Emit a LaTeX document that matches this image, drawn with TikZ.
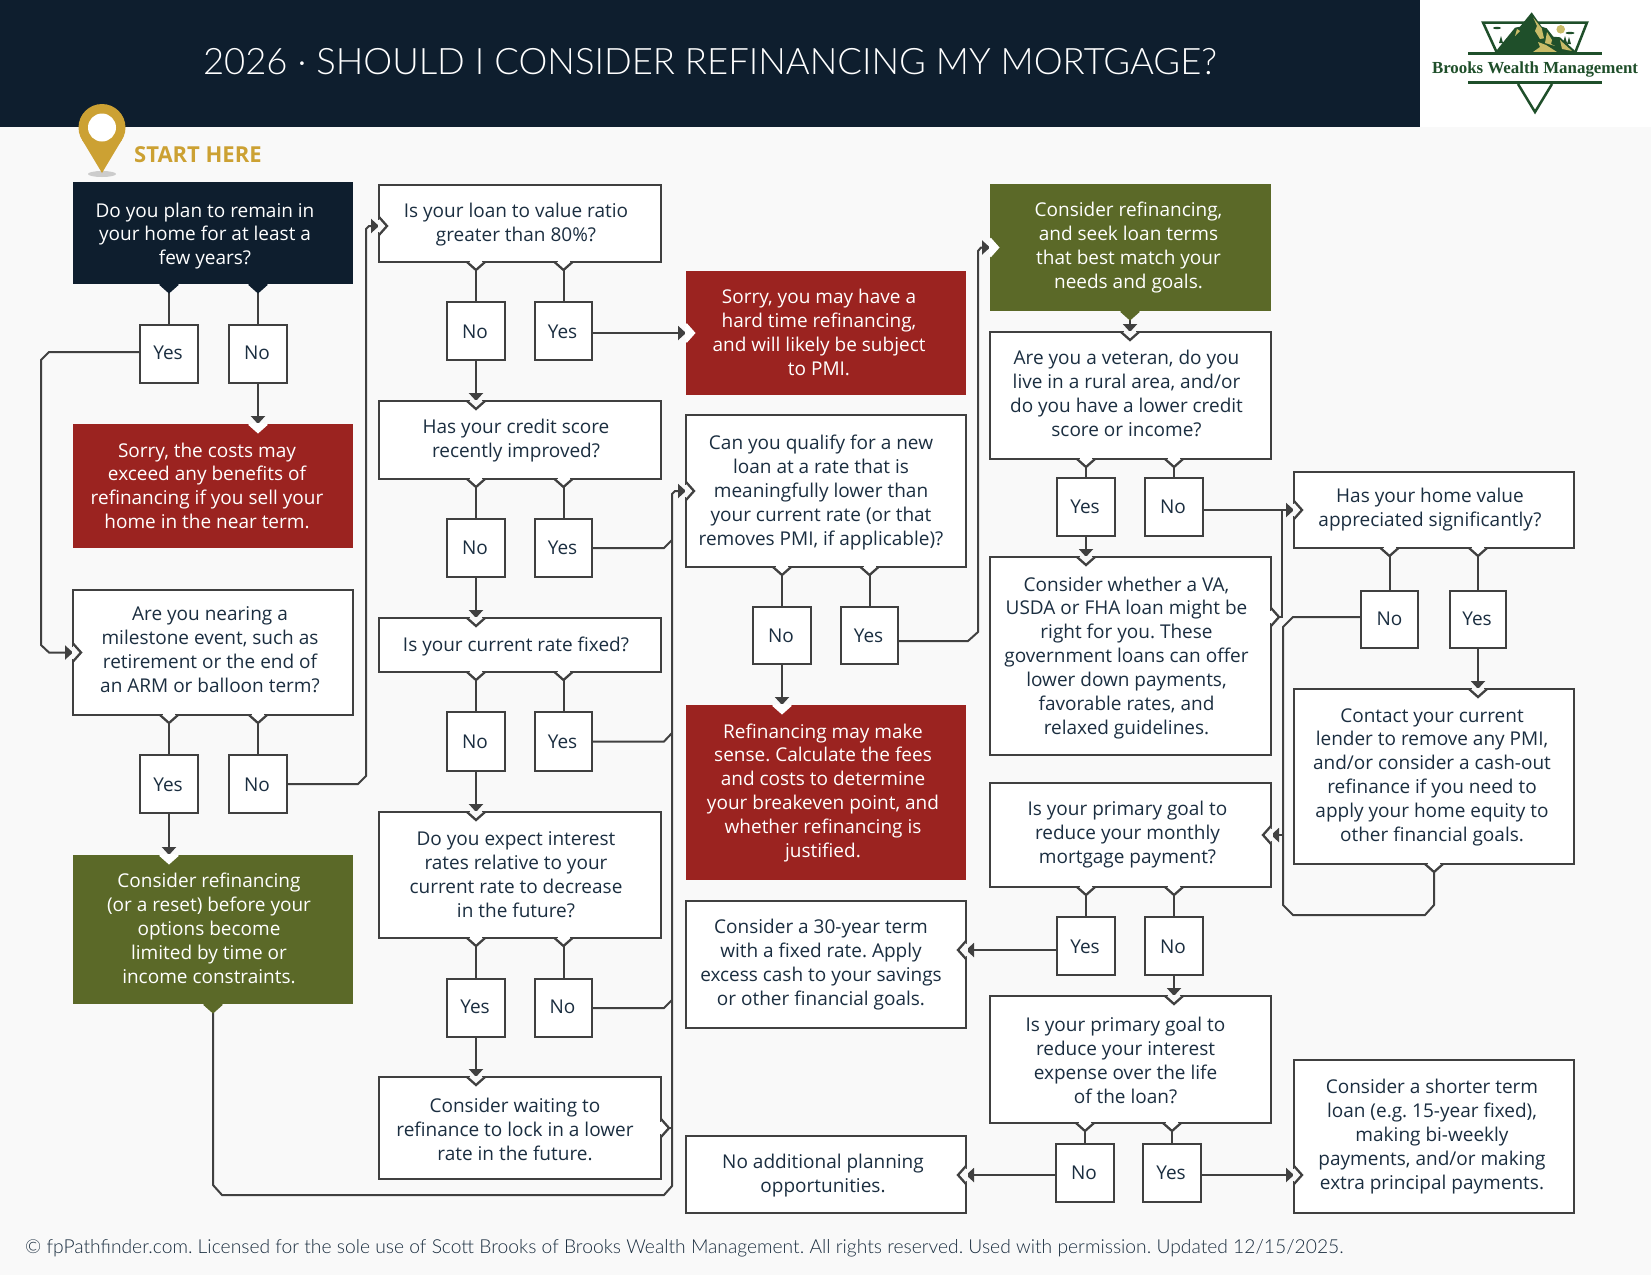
\documentclass[tikz,border=0pt]{standalone}
\usepackage{fontspec}
\usepackage{graphicx}
\usetikzlibrary{arrows.meta,backgrounds,calc}
\setmainfont{Open Sans}
\newfontfamily\lightf{Lato}[UprightFont=* Light]
\newfontfamily\logof{Liberation Serif}
\frenchspacing
\definecolor{pagebg}{HTML}{F9F9F9}
\definecolor{navy}{HTML}{0E1E2E}
\definecolor{inkc}{HTML}{1B2E40}
\definecolor{redc}{HTML}{9B2320}
\definecolor{greenc}{HTML}{5B6928}
\definecolor{goldc}{HTML}{CCA133}
\definecolor{linec}{HTML}{404040}
\definecolor{logog}{HTML}{1F4F2A}
\definecolor{logoy}{HTML}{C9BC68}
\newcommand\txt[3]{\frenchspacing\kern#1pt\raisebox{#2pt}[\height][\depth]{\begin{tabular}{@{}c@{}}#3\end{tabular}}\kern-#1pt}
% name x1 y1 x2 y2 style dx dy lines
\newcommand\bx[9]{\node[#6,minimum width={(#4)-(#2)},minimum height={(#5)-(#3)}] (#1) at ({((#2)+(#4))/2},{((#3)+(#5))/2}) {\txt{#7}{#8}{#9}};}
% coordinate, rotation (0 down, 90 right, 180 up, -90 left), fill, draw
\newcommand\nt[4]{\begin{scope}[shift={#1},rotate=#2]
\fill[#3] (-8,0) -- (0,8) -- (8,0) -- cycle;
\draw[#3,line width=3pt] (-6,0) -- (6,0);
\draw[#4,line width=2.3pt,line join=miter] (-9,0) -- (0,8) -- (9,0);
\end{scope}}
\tikzset{
 base/.style={inner sep=0pt,outer sep=0pt,font=\fontsize{19}{23.9}\selectfont},
 qbox/.style={base,rectangle,draw=linec,line width=2.3pt,fill=white,text=inkc},
 ansbox/.style={qbox},
 navybox/.style={base,rectangle,fill=navy,text=white},
 redbox/.style={base,rectangle,fill=redc,text=white},
 greenbox/.style={base,rectangle,fill=greenc,text=white},
 conn/.style={draw=linec,line width=2pt,line join=miter},
 arr/.style={conn,-{Triangle[width=14pt,length=8pt]}},
}
\begin{document}
\begin{tikzpicture}[x=1pt,y=-1pt]
\useasboundingbox (0,0) rectangle (1651,1275);

% column 1
\bx{a1}{73}{182}{353}{284}{navybox}{-8}{-3.2}{Do you plan to remain in\\your home for at least a\\few years?}
\bx{a1y}{140}{325}{198}{383}{ansbox}{-1}{-1}{Yes}
\bx{a1n}{229}{325}{287}{383}{ansbox}{-1}{-1}{No}
\bx{r1}{73}{424}{353}{548}{redbox}{-6}{-2.1}{Sorry, the costs may\\exceed any benefits of\\refinancing if you sell your\\home in the near term.}
\bx{a2}{73}{590}{353}{715}{qbox}{-3}{1}{Are you nearing a\\milestone event, such as\\retirement or the end of\\an ARM or balloon term?}
\bx{a2y}{140}{755}{198}{813}{ansbox}{-1}{-2.5}{Yes}
\bx{a2n}{229}{755}{287}{813}{ansbox}{-1}{-2.5}{No}
\bx{g1}{73}{855}{353}{1004}{greenbox}{-4}{-1}{Consider refinancing\\(or a reset) before your\\options become\\limited by time or\\income constraints.}

% column 2
\bx{b1}{379}{185}{661}{262}{qbox}{-4}{-1}{Is your loan to value ratio\\greater than 80\%?}
\bx{b1n}{447}{302}{505}{360}{ansbox}{-1}{-2.5}{No}
\bx{b1y}{535}{302}{592}{360}{ansbox}{-1}{-2.5}{Yes}
\bx{b2}{379}{401}{661}{479}{qbox}{-4}{-0.5}{Has your credit score\\recently improved?}
\bx{b2n}{447}{519}{505}{577}{ansbox}{-1}{-2}{No}
\bx{b2y}{535}{519}{592}{577}{ansbox}{-1}{-2}{Yes}
\bx{b3}{379}{618}{661}{672}{qbox}{-4}{-2}{Is your current rate fixed?}
\bx{b3n}{447}{712}{505}{771}{ansbox}{-1}{-2}{No}
\bx{b3y}{535}{712}{592}{771}{ansbox}{-1}{-2}{Yes}
\bx{b4}{379}{812}{661}{938}{qbox}{-4}{-2}{Do you expect interest\\rates relative to your\\current rate to decrease\\in the future?}
\bx{b4y}{447}{979}{505}{1037}{ansbox}{-1}{-0.5}{Yes}
\bx{b4n}{535}{979}{592}{1037}{ansbox}{-1}{-0.5}{No}
\bx{b5}{379}{1077}{661}{1179}{qbox}{-5}{-4}{Consider waiting to\\refinance to lock in a lower\\rate in the future.}

% column 3
\bx{r2}{686}{271}{966}{395}{redbox}{-7}{-2}{Sorry, you may have a\\hard time refinancing,\\and will likely be subject\\to PMI.}
\bx{c1}{686}{415}{966}{567}{qbox}{-5}{-1.5}{Can you qualify for a new\\loan at a rate that is\\meaningfully lower than\\your current rate (or that\\removes PMI, if applicable)?}
\bx{c1n}{753}{607}{811}{664}{ansbox}{-1}{-2}{No}
\bx{c1y}{841}{607}{898}{664}{ansbox}{-1}{-2}{Yes}
\bx{r3}{686}{705}{966}{880}{redbox}{-3}{-0.5}{Refinancing may make\\sense. Calculate the fees\\and costs to determine\\your breakeven point, and\\whether refinancing is\\justified.}
\bx{c2}{686}{901}{966}{1028}{qbox}{-5}{0}{Consider a 30-year term\\with a fixed rate. Apply\\excess cash to your savings\\or other financial goals.}
\bx{c3}{686}{1136}{966}{1213}{qbox}{-3}{-1}{No additional planning\\opportunities.}

% column 4
\bx{g2}{990}{184}{1271}{311}{greenbox}{-2}{0}{Consider refinancing,\\and seek loan terms\\that best match your\\needs and goals.}
\bx{d1}{990}{332}{1271}{459}{qbox}{-4}{-0.5}{Are you a veteran, do you\\live in a rural area, and/or\\do you have a lower credit\\score or income?}
\bx{d1y}{1057}{478}{1115}{536}{ansbox}{-1}{-2}{Yes}
\bx{d1n}{1145}{478}{1203}{536}{ansbox}{-1}{-2}{No}
\bx{d2}{990}{557}{1271}{755}{qbox}{-4}{-2}{Consider whether a VA,\\USDA or FHA loan might be\\right for you. These\\government loans can offer\\lower down payments,\\favorable rates, and\\relaxed guidelines.}
\bx{d3}{990}{783}{1271}{887}{qbox}{-3}{0}{Is your primary goal to\\reduce your monthly\\mortgage payment?}
\bx{d3y}{1057}{917}{1115}{975}{ansbox}{-1}{-2.5}{Yes}
\bx{d3n}{1145}{917}{1203}{975}{ansbox}{-1}{-2.5}{No}
\bx{d4}{990}{996}{1271}{1123}{qbox}{-5}{-3}{Is your primary goal to\\reduce your interest\\expense over the life\\of the loan?}
\bx{d4n}{1056}{1144}{1114}{1202}{ansbox}{-1}{-2}{No}
\bx{d4y}{1143}{1144}{1201}{1202}{ansbox}{-1}{-2}{Yes}

% column 5
\bx{e1}{1294}{472}{1574}{548}{qbox}{-4}{0}{Has your home value\\appreciated significantly?}
\bx{e1n}{1361}{591}{1418}{648}{ansbox}{0}{-1}{No}
\bx{e1y}{1450}{591}{1506}{648}{ansbox}{-1}{-1}{Yes}
\bx{e2}{1294}{689}{1574}{864}{qbox}{-2}{-0.5}{Contact your current\\lender to remove any PMI,\\and/or consider a cash-out\\refinance if you need to\\apply your home equity to\\other financial goals.}
\bx{e3}{1294}{1060}{1574}{1213}{qbox}{-2}{-0.5}{Consider a shorter term\\loan (e.g. 15-year fixed),\\making bi-weekly\\payments, and/or making\\extra principal payments.}

% named ports
\coordinate (d2out) at (1271,617);
\coordinate (c2in) at (966,950);
\coordinate (c3in) at (966,1175);
\coordinate (e3in) at (1294,1175);
\coordinate (b1in) at (379,226);

\begin{scope}[on background layer]
\fill[pagebg] (0,0) rectangle (1651,1275);
\fill[navy] (0,0) rectangle (1420,127);
\fill[white] (1420,0) rectangle (1651,127);

% column 1 connectors
\draw[conn] (a1.south -| a1y.north) -- (a1y.north);
\draw[conn] (a1.south -| a1n.north) -- (a1n.north);
\draw[arr] (a1n.south) -- (a1n.south |- r1.north);
\draw[arr] (a1y.west |- 49,352) -- (49,352) -- (41,360) -- (41,645) -- (49,652.5) -- (a2.west);
\draw[conn] (a2.south -| a2y.north) -- (a2y.north);
\draw[conn] (a2.south -| a2n.north) -- (a2n.north);
\draw[arr] (a2y.south) -- (a2y.south |- g1.north);
\draw[arr] (a2n.east) -- (358,784) -- (366,776) -- (366,229) -- (369,226) -- (b1in);

% column 2 connectors
\draw[conn] (b1.south -| b1n.north) -- (b1n.north);
\draw[conn] (b1.south -| b1y.north) -- (b1y.north);
\draw[arr] (b1n.south) -- (b1n.south |- b2.north);
\draw[arr] (b1y.east |- r2.west) -- (r2.west);
\draw[conn] (b2.south -| b2n.north) -- (b2n.north);
\draw[conn] (b2.south -| b2y.north) -- (b2y.north);
\draw[arr] (b2n.south) -- (b2n.south |- b3.north);
\draw[conn] (b3.south -| b3n.north) -- (b3n.north);
\draw[conn] (b3.south -| b3y.north) -- (b3y.north);
\draw[arr] (b3n.south) -- (b3n.south |- b4.north);
\draw[conn] (b4.south -| b4y.north) -- (b4y.north);
\draw[conn] (b4.south -| b4n.north) -- (b4n.north);
\draw[arr] (b4y.south) -- (b4y.south |- b5.north);
% collector into column 3
\draw[arr] (g1.south -| 213,0) -- (213,1185) -- (222,1195) -- (664,1195) -- (672,1186) -- (672,494) -- (675,491) -- (c1.west);
\draw[conn] (b2y.east) -- (664,548) -- (672,540);
\draw[conn] (b3y.east) -- (664,741.5) -- (672,733);
\draw[conn] (b4n.east) -- (664,1008) -- (672,1000);
\draw[conn] (b5.east) -- (672,1128);

% column 3 connectors
\draw[conn] (c1.south -| c1n.north) -- (c1n.north);
\draw[conn] (c1.south -| c1y.north) -- (c1y.north);
\draw[arr] (c1n.south) -- (c1n.south |- r3.north);
\draw[arr] (c1y.east |- 968,641) -- (968,641) -- (978,632) -- (978,251) -- (981,247.5) -- (g2.west);

% column 4 connectors
\draw[arr] (g2.south -| 1130,0) -- (d1.north -| 1130,0);
\draw[conn] (d1.south -| d1y.north) -- (d1y.north);
\draw[conn] (d1.south -| d1n.north) -- (d1n.north);
\draw[arr] (d1y.south) -- (d1y.south |- d2.north);
\draw[arr] (d1n.east |- e1.west) -- (e1.west);
\draw[conn] (d2out) -- (1282,617) -- (1282,510);
\draw[conn] (d3.south -| d3y.north) -- (d3y.north);
\draw[conn] (d3.south -| d3n.north) -- (d3n.north);
\draw[arr] (d3y.west |- c2in) -- (c2in);
\draw[arr] (d3n.south) -- (d3n.south |- d4.north);
\draw[conn] (d4.south -| d4n.north) -- (d4n.north);
\draw[conn] (d4.south -| d4y.north) -- (d4y.north);
\draw[arr] (d4n.west |- c3in) -- (c3in);
\draw[arr] (d4y.east |- e3in) -- (e3in);

% column 5 connectors
\draw[conn] (e1.south -| e1n.north) -- (e1n.north);
\draw[conn] (e1.south -| e1y.north) -- (e1y.north);
\draw[arr] (e1y.south) -- (e1y.south |- e2.north);
\draw[conn] (e1n.west |- 1293,617) -- (1293,617) -- (1283,627) -- (1283,905) -- (1293,915) -- (1425,915) -- (1434,905) -- (e2.south -| 1434,0);
\draw[arr] (1283,835) -- (d3.east);
\end{scope}

% out tabs and in notches
\nt{(a1.south -| a1y.north)}{0}{navy}{navy}
\nt{(a1.south -| a1n.north)}{0}{navy}{navy}
\nt{(a2.south -| a2y.north)}{0}{white}{linec}
\nt{(a2.south -| a2n.north)}{0}{white}{linec}
\nt{(g1.south -| 213,0)}{0}{greenc}{greenc}
\nt{(a1n.south |- r1.north)}{0}{white}{white}
\nt{(a2.west)}{90}{pagebg}{linec}
\nt{(a2y.south |- g1.north)}{0}{white}{white}
\nt{(b1in)}{90}{pagebg}{linec}
\nt{(b1.south -| b1n.north)}{0}{white}{linec}
\nt{(b1.south -| b1y.north)}{0}{white}{linec}
\nt{(b1n.south |- b2.north)}{0}{pagebg}{linec}
\nt{(b2.south -| b2n.north)}{0}{white}{linec}
\nt{(b2.south -| b2y.north)}{0}{white}{linec}
\nt{(b2n.south |- b3.north)}{0}{pagebg}{linec}
\nt{(b3.south -| b3n.north)}{0}{white}{linec}
\nt{(b3.south -| b3y.north)}{0}{white}{linec}
\nt{(b3n.south |- b4.north)}{0}{pagebg}{linec}
\nt{(b4.south -| b4y.north)}{0}{white}{linec}
\nt{(b4.south -| b4n.north)}{0}{white}{linec}
\nt{(b4y.south |- b5.north)}{0}{pagebg}{linec}
\nt{(b5.east)}{90}{white}{linec}
\nt{(r2.west)}{90}{white}{white}
\nt{(c1.west)}{90}{pagebg}{linec}
\nt{(c1.south -| c1n.north)}{0}{white}{linec}
\nt{(c1.south -| c1y.north)}{0}{white}{linec}
\nt{(c1n.south |- r3.north)}{0}{white}{white}
\nt{(c2in)}{-90}{pagebg}{linec}
\nt{(c3in)}{-90}{pagebg}{linec}
\nt{(g2.west)}{90}{white}{white}
\nt{(g2.south -| 1130,0)}{0}{greenc}{greenc}
\nt{(d1.north -| 1130,0)}{0}{pagebg}{linec}
\nt{(d1.south -| d1y.north)}{0}{white}{linec}
\nt{(d1.south -| d1n.north)}{0}{white}{linec}
\nt{(d1y.south |- d2.north)}{0}{pagebg}{linec}
\nt{(d2out)}{90}{white}{linec}
\nt{(d3.east)}{-90}{pagebg}{linec}
\nt{(d3.south -| d3y.north)}{0}{white}{linec}
\nt{(d3.south -| d3n.north)}{0}{white}{linec}
\nt{(d3n.south |- d4.north)}{0}{pagebg}{linec}
\nt{(d4.south -| d4n.north)}{0}{white}{linec}
\nt{(d4.south -| d4y.north)}{0}{white}{linec}
\nt{(e3in)}{90}{pagebg}{linec}
\nt{(e1.west)}{90}{pagebg}{linec}
\nt{(e1.south -| e1n.north)}{0}{white}{linec}
\nt{(e1.south -| e1y.north)}{0}{white}{linec}
\nt{(e1y.south |- e2.north)}{0}{pagebg}{linec}
\nt{(e2.south -| 1434,0)}{0}{white}{linec}

% header, pin, footer
\node[anchor=center,text=white,inner sep=0pt] (title) at (710,62) {\resizebox{1014pt}{!}{\lightf\fontsize{37}{44}\selectfont 2026 · SHOULD I CONSIDER REFINANCING MY MORTGAGE?}};
\fill[black!20] (102,174) ellipse (14 and 3);
\fill[goldc] (102,127.5) circle (23.5);
\fill[goldc] (82,139.6) -- (102,173) -- (122,139.6) -- cycle;
\fill[white] (102,127.5) circle (14);
\node[anchor=west,text=goldc,inner sep=0pt,font=\fontsize{22}{28}\selectfont\bfseries] (start) at (134,155) {START HERE};
\node[anchor=west,text=inkc,inner sep=0pt] (foot) at (25,1248) {\resizebox{1318pt}{!}{\lightf\fontsize{19}{23}\selectfont\frenchspacing © fpPathfinder.com. Licensed for the sole use of Scott Brooks of Brooks Wealth Management. All rights reserved. Used with permission. Updated 12/15/2025.}};

% logo
\draw[logog,line width=2.5pt,line join=miter] (1497,53) -- (1483,22.5) -- (1587,22.5) -- (1575,53);
\fill[logog] (1497,28) ellipse (4 and 1.2) (1570,33) ellipse (4.5 and 1.2);
\fill[logog] (1501,36) -- (1499,43) -- (1503,43) -- cycle (1565,36) -- (1563,43) -- (1567,43) -- cycle (1569,37) -- (1567,44) -- (1571,44) -- cycle;
\fill[logoy] (1560.7,29.3) circle (4.3);
\fill[logog] (1495,52.3) -- (1515,27.7) -- (1520,26.7) -- (1531.7,12.3) -- (1541.7,26.7) -- (1546.7,28.3) -- (1553.3,36.7) -- (1560,37.3) -- (1576.7,52.3) -- cycle;
\fill[logoy] (1517,29) -- (1520,31) -- (1515,36) -- cycle;
\fill[logoy] (1533.3,17.7) -- (1541.7,28.3) -- (1544,38.3) -- (1540,39) -- (1535,31) -- (1537,26) -- cycle;
\fill[logoy] (1547,32) -- (1552,40) -- (1551,44) -- (1555,46) -- (1545,43) -- cycle;
\fill[logoy] (1538,42) -- (1546,45) -- (1557,52) -- (1533,52) -- (1540,47) -- cycle;
\fill[logoy] (1560,40) -- (1572,51) -- (1562,49) -- cycle;
\fill[logog] (1468,52) rectangle (1602,54.5);
\fill[logog] (1468,81) rectangle (1602,84);
\draw[logog,line width=2.5pt,line join=miter] (1518,84) -- (1535,112) -- (1552,84);
\node[text=logog,inner sep=0pt] (logo) at (1535,69.5) {\resizebox{206pt}{!}{\logof\bfseries\fontsize{16}{18}\selectfont Brooks Wealth Management}};
\end{tikzpicture}
\end{document}
